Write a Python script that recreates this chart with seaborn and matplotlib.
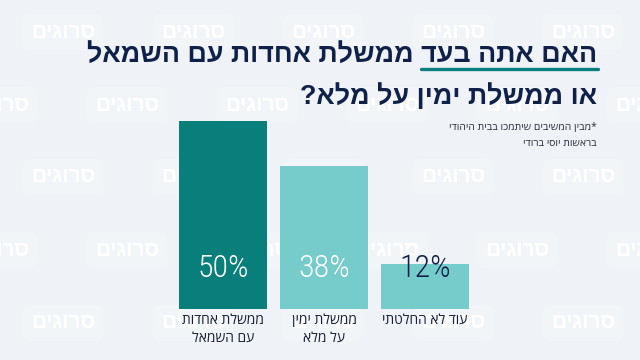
import matplotlib
matplotlib.use("Agg")
import matplotlib.pyplot as plt
import seaborn as sns
import pandas as pd
from matplotlib import font_manager
from matplotlib.lines import Line2D
from fontTools.ttLib import TTFont

categories = ["ממשלת אחדות\nעם השמאל", "ממשלת ימין\nעל מלא", "עוד לא החלטתי"]
values = [50, 38, 12]
value_labels = ["50%", "38%", "12%"]
title_lines = ["האם אתה בעד ממשלת אחדות עם השמאל", "או ממשלת ימין על מלא?"]
underlined = "האם אתה בעד"
note_lines = ["*מבין המשיבים שיתמכו בבית היהודי", "בראשות יוסי ברודי"]
watermark = "סרוגים"

bg = "#eff3f7"
navy = "#102149"
teal_dark = "#087f7b"
teal_light = "#76cbcb"
bar_colors = [teal_dark, teal_light, teal_light]
label_colors = ["white", "white", navy]


def rtl(s):
    # matplotlib has no bidi support, so flip each line for display
    return "\n".join(line[::-1] for line in s.split("\n"))


def hebrew_font(candidates, weight="normal"):
    for fam in candidates:
        try:
            path = font_manager.findfont(
                font_manager.FontProperties(family=fam, weight=weight),
                fallback_to_default=False)
            if 0x5D0 in TTFont(path, fontNumber=0).getBestCmap():
                return fam
        except Exception:
            pass
    return "DejaVu Sans"


installed = {f.name for f in font_manager.fontManager.ttflist}
head_font = hebrew_font(["Liberation Sans Narrow", "Open Sans", "Liberation Sans"], "bold")
body_font = hebrew_font(["Liberation Sans Narrow", "Open Sans", "Liberation Sans"])
num_font = next((f for f in ["Roboto Condensed", "Liberation Sans Narrow", "Open Sans Condensed",
                             "Roboto", "Liberation Sans"] if f in installed), "DejaVu Sans")

sns.set_theme(style="white")
plt.rcParams["font.family"] = [body_font, "DejaVu Sans"]

W, H = 640, 360
fig = plt.figure(figsize=(6.4, 3.6), dpi=100, facecolor=bg)


def fx(px):
    return px / W


def fy(py):
    return 1 - py / H


# faint watermark grid behind everything
for r, y in enumerate([32, 105, 177, 250, 323]):
    x0 = 63 if r % 2 == 0 else -3
    for k in range(6):
        fig.text(fx(x0 + 130 * k), fy(y), rtl(watermark), color="white",
                 fontsize=15, fontweight="bold", family=[head_font, "DejaVu Sans"],
                 ha="center", va="center", zorder=-2,
                 bbox=dict(boxstyle="round,pad=0.4", fc="#f4f8fa", ec="none", alpha=0.55))

# bars
ax = fig.add_axes([fx(172.5), 51 / H, fx(303), 188 / H])
ax.set_facecolor("none")
df = pd.DataFrame({"category": [rtl(c) for c in categories], "value": values})
sns.barplot(data=df, x="category", y="value", hue="category", palette=bar_colors,
            saturation=1, width=0.87, legend=False, linewidth=0, ax=ax)
ax.set_xlim(-0.5, 2.5)
ax.set_ylim(0, 50)
for spine in ax.spines.values():
    spine.set_visible(False)
ax.set_yticks([])
ax.set_xlabel("")
ax.set_ylabel("")
ax.tick_params(axis="x", length=0, pad=3, labelsize=10, labelcolor="#161d36")
for t in ax.get_xticklabels():
    t.set_linespacing(1.2)
    t.set_va("top")

for i, (lab, col) in enumerate(zip(value_labels, label_colors)):
    ax.text(i, 0.218, lab, transform=ax.get_xaxis_transform(), ha="center", va="center",
            fontsize=23, fontweight="light", color=col, family=[num_font, "DejaVu Sans"])

# title
renderer = fig.canvas.get_renderer()
t1 = fig.text(fx(597), fy(62), rtl(title_lines[0]), ha="right", va="baseline",
              fontsize=24, fontweight="bold", color=navy, family=[head_font, "DejaVu Sans"])
# shrink to the width of the original headline
w = t1.get_window_extent(renderer).width
size = min(24, 24 * 512 / w)
t1.set_fontsize(size)
fig.text(fx(597), fy(104), rtl(title_lines[1]), ha="right", va="baseline",
         fontsize=size, fontweight="bold", color=navy, family=[head_font, "DejaVu Sans"])
probe = fig.text(0, 0, rtl(underlined), fontsize=size, fontweight="bold",
                 family=[head_font, "DejaVu Sans"])
uw = probe.get_window_extent(renderer).width
probe.remove()
fig.add_artist(Line2D([fx(597 - uw), fx(598)], [fy(69), fy(69)], color=teal_dark, lw=2.4))

# note
fig.text(fx(597), fy(130), rtl(note_lines[0]), ha="right", va="baseline",
         fontsize=7.5, color="#2a2d3c")
fig.text(fx(597), fy(146), rtl(note_lines[1]), ha="right", va="baseline",
         fontsize=7.5, color="#2a2d3c")

fig.savefig("out.png", dpi=100, facecolor=bg)
